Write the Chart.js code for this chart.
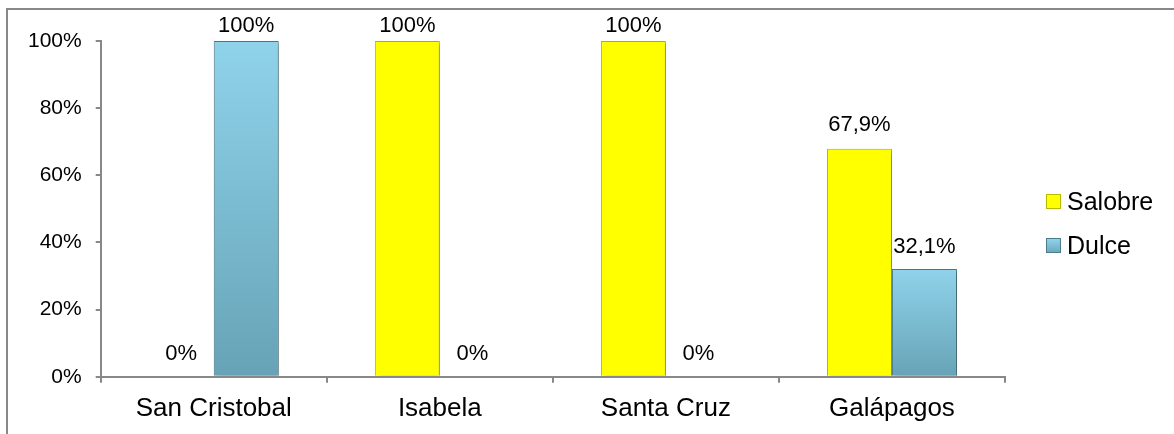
<!DOCTYPE html>
<html>
<head>
  <title>Salobre / Dulce</title>
  <script src="https://cdn.jsdelivr.net/npm/chart.js"></script>
  <style>
    body { margin: 0; background: #fff; }
    #wrap { width: 1174px; height: 434px; position: relative; }
  </style>
</head>
<body>
  <div id="wrap"><canvas id="chart"></canvas></div>
  <script>
    var categories = ['San Cristobal', 'Isabela', 'Santa Cruz', 'Galápagos'];
    var salobre = [0, 100, 100, 67.9];
    var dulce = [100, 0, 0, 32.1];
    var yTicks = [0, 20, 40, 60, 80, 100];

    var FONT = '"Liberation Sans", Arial, sans-serif';

    function fmt(v) {
      return String(v).replace('.', ',') + '%';
    }

    function blueFill(c) {
      if (c.type !== 'data') return '#7cbed4';
      var y = c.chart.scales.y;
      if (!y) return '#7cbed4';
      var top = y.getPixelForValue(c.raw);
      var bot = y.getPixelForValue(0);
      if (!isFinite(top) || !isFinite(bot) || bot - top < 1) return '#7cbed4';
      var g = c.chart.ctx.createLinearGradient(0, top, 0, bot);
      g.addColorStop(0, '#8fd3ea');
      g.addColorStop(1, '#67a3b7');
      return g;
    }

    // frame, bar shadow, value labels and the legend on the right
    var extras = {
      id: 'extras',
      beforeDraw: function(chart) {
        var ctx = chart.ctx;
        ctx.save();
        ctx.strokeStyle = '#888';
        ctx.lineWidth = 2;
        ctx.beginPath();
        ctx.moveTo(7, chart.height);
        ctx.lineTo(7, 9);
        ctx.lineTo(chart.width, 9);
        ctx.stroke();
        ctx.restore();
      },
      beforeDatasetsDraw: function(chart) {
        var ctx = chart.ctx;
        ctx.save();
        ctx.shadowColor = 'rgba(0,0,0,0.35)';
        ctx.shadowBlur = 5;
        ctx.shadowOffsetX = 2;
        ctx.shadowOffsetY = 2;
      },
      afterDatasetsDraw: function(chart, args, opts) {
        var ctx = chart.ctx;
        ctx.restore();
        ctx.save();
        ctx.font = '22px ' + FONT;
        ctx.fillStyle = '#000';
        ctx.textAlign = 'center';
        ctx.textBaseline = 'middle';
        chart.data.datasets.forEach(function(ds, di) {
          var meta = chart.getDatasetMeta(di);
          meta.data.forEach(function(bar, i) {
            ctx.fillText(fmt(ds.data[i]), bar.x, bar.y - opts.lift[di][i]);
          });
        });
        ctx.restore();
      },
      afterDraw: function(chart, args, opts) {
        var ctx = chart.ctx;
        var x = chart.chartArea.right + 41;
        ctx.save();
        ctx.font = '25px ' + FONT;
        ctx.textBaseline = 'middle';
        chart.data.datasets.forEach(function(ds, di) {
          var cy = opts.legendTop + di * 44;
          var fill = opts.legendFill[di];
          if (typeof fill !== 'string') {
            fill = ctx.createLinearGradient(0, cy - 7, 0, cy + 8);
            fill.addColorStop(0, '#8fd3ea');
            fill.addColorStop(1, '#67a3b7');
          }
          ctx.fillStyle = fill;
          ctx.fillRect(x, cy - 8, 15, 15);
          ctx.strokeStyle = ds.borderColor;
          ctx.lineWidth = 1;
          ctx.strokeRect(x + 0.5, cy - 7.5, 14, 14);
          ctx.fillStyle = '#000';
          ctx.fillText(ds.label, x + 21, cy + 1);
        });
        ctx.restore();
      }
    };

    new Chart(document.getElementById('chart'), {
      type: 'bar',
      data: {
        labels: categories,
        datasets: [{
          label: 'Salobre',
          data: salobre,
          backgroundColor: '#ffff00',
          borderColor: '#b9b900',
          borderWidth: 1,
          categoryPercentage: 0.575,
          barPercentage: 1
        }, {
          label: 'Dulce',
          data: dulce,
          backgroundColor: blueFill,
          borderColor: '#4a7e8f',
          borderWidth: 1,
          categoryPercentage: 0.575,
          barPercentage: 1
        }]
      },
      options: {
        responsive: true,
        maintainAspectRatio: false,
        animation: false,
        layout: { padding: { left: 14, top: 41, right: 169, bottom: 0 } },
        plugins: {
          tooltip: { enabled: false },
          legend: { display: false },
          extras: {
            lift: [[23, 15, 15, 24], [15, 23, 23, 22]],
            legendTop: 202,
            legendFill: ['#ffff00', null]
          }
        },
        scales: {
          x: {
            grid: { display: true, drawOnChartArea: false, tickLength: 6, color: '#888', lineWidth: 2 },
            border: { color: '#888', width: 2 },
            ticks: { color: '#000', font: { family: FONT, size: 26 }, padding: 10 }
          },
          y: {
            min: 0,
            max: 100,
            afterBuildTicks: function(s) { s.ticks = yTicks.map(function(v) { return { value: v }; }); },
            grid: { display: true, drawOnChartArea: false, tickLength: 5, color: '#888', lineWidth: 2 },
            border: { color: '#888', width: 2 },
            ticks: { color: '#000', font: { family: FONT, size: 21 }, padding: 14, callback: function(v) { return v + '%'; } }
          }
        }
      },
      plugins: [extras]
    });
  </script>
</body>
</html>
